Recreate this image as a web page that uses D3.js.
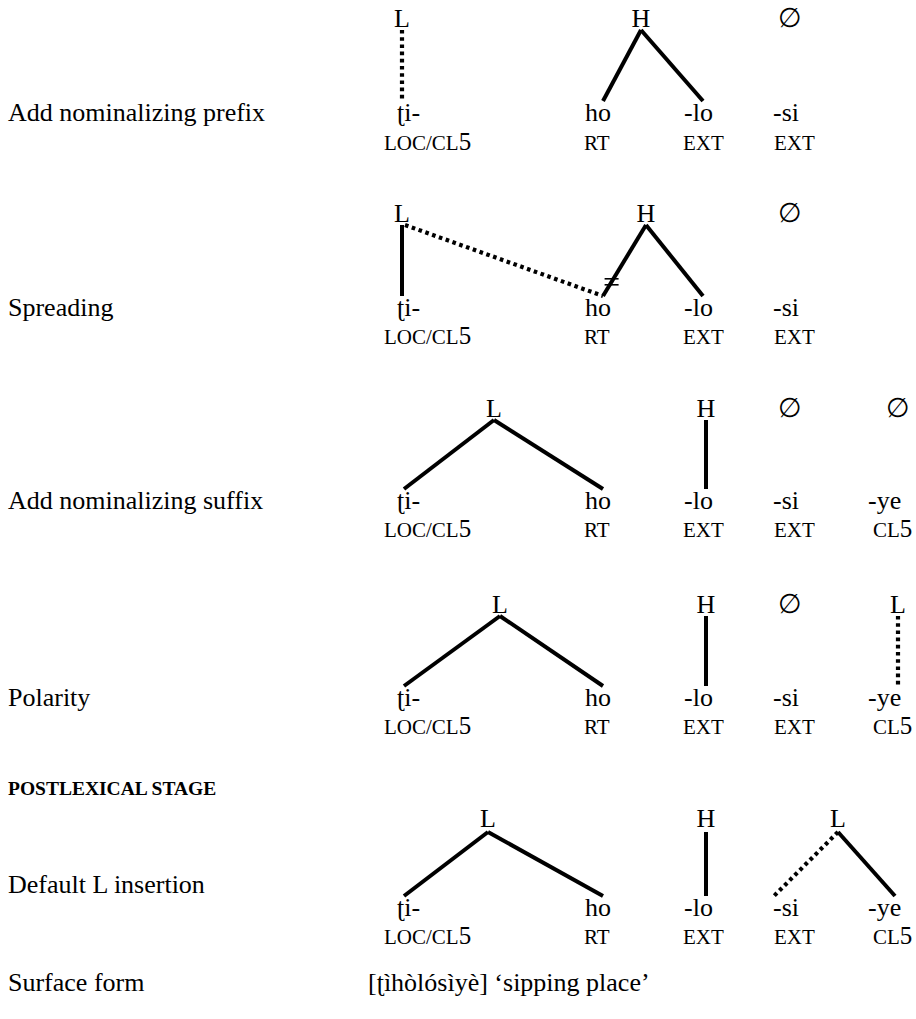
<!DOCTYPE html>
<html>
<head>
<meta charset="utf-8">
<script src="https://cdn.jsdelivr.net/npm/d3@7"></script>
<style>
  html, body { margin: 0; padding: 0; background: #fff; }
  svg { display: block; }
  text { font-family: "Liberation Serif", "Times New Roman", serif; fill: #000; }
</style>
</head>
<body>
<svg id="chart" width="916" height="1019"></svg>
<script>
// ---------------- DATA ----------------
const stepLabels = ["Add nominalizing prefix", "Spreading", "Add nominalizing suffix", "Polarity", "Default L insertion"];
const sectionHeading = "POSTLEXICAL STAGE";
const segments = ["ʈi-", "ho", "-lo", "-si", "-ye"];
const glosses = ["LOC/CL5", "RT", "EXT", "EXT", "CL5"];
const segmentCount = [4, 4, 5, 5, 5];
// tones of each step (label + tone column)
const tonesStep1 = [["L", 0], ["H", 1], ["∅", 3]];
const tonesStep2 = [["L", 0], ["H", 2], ["∅", 3]];
const tonesStep3 = [["L", 4], ["H", 5], ["∅", 3], ["∅", 6]];
const tonesStep4 = [["L", 7], ["H", 5], ["∅", 3], ["L", 6]];
const tonesStep5 = [["L", 8], ["H", 5], ["L", 9]];
// associations: [tone index, segment index, kind]
const linksStep1 = [[0, 0, "new"], [1, 1, "old"], [1, 2, "old"]];
const linksStep2 = [[0, 0, "old"], [0, 1, "new"], [1, 1, "cut"], [1, 2, "old"]];
const linksStep3 = [[0, 0, "old"], [0, 1, "old"], [1, 2, "old"]];
const linksStep4 = [[0, 0, "old"], [0, 1, "old"], [1, 2, "old"], [3, 4, "new"]];
const linksStep5 = [[0, 0, "old"], [0, 1, "old"], [1, 2, "old"], [2, 3, "new"], [2, 4, "old"]];
const surfaceLabel = "Surface form";
const surfaceForm = "[ʈìhòlósìyè] ‘sipping place’";

const allTones = [tonesStep1, tonesStep2, tonesStep3, tonesStep4, tonesStep5];
const allLinks = [linksStep1, linksStep2, linksStep3, linksStep4, linksStep5];

// ---------------- LAYOUT ----------------
const svg = d3.select("#chart");
const FS = 26, GFS = 21;
// horizontal page scale (document units -> px)
const x = d3.scaleLinear().domain([0, 916]).range([0, 916]);
const segStart = [397, 585, 684, 773, 868];
const segAnchor = [404, 603, 703, 774, 895];
const glossStart = [384, 584, 683, 774, 873];
const toneCol = [402, 641, 646, 790, 494, 706, 898, 500, 488, 838];
// vertical positions per step
const toneBase = [27, 222, 417, 613, 827];
const segBase = [121, 316, 509, 706, 916];
const glossBase = [150, 344, 537, 734, 944];
const labelBase = [121, 316, 509, 706, 893];

const g = svg.append("g");

stepLabels.forEach((lab, i) => {
  g.append("text").attr("x", x(8)).attr("y", labelBase[i]).attr("font-size", FS).text(lab);
});
g.append("text").attr("x", x(8)).attr("y", 795).attr("font-size", 19.5)
  .attr("font-weight", "bold").text(sectionHeading);

allTones.forEach((tones, i) => {
  const n = segmentCount[i];
  // tones
  tones.forEach(([t, c]) => {
    g.append("text").attr("x", x(toneCol[c])).attr("y", toneBase[i])
      .attr("text-anchor", "middle").attr("font-size", t === "∅" ? 27 : FS)
      .style("font-family", t === "∅" ? "'DejaVu Sans', sans-serif" : null)
      .style("font-weight", t === "∅" ? 300 : null)
      .text(t);
  });
  // segments
  for (let j = 0; j < n; j++) {
    g.append("text").attr("x", x(segStart[j])).attr("y", segBase[i]).attr("font-size", FS).text(segments[j]);
    const gt = g.append("text").attr("x", x(glossStart[j])).attr("y", glossBase[i]);
    glosses[j].split(/(\d+)/).filter(s => s.length).forEach(part => {
      gt.append("tspan").attr("font-size", /\d/.test(part) ? FS - 1 : GFS).text(part);
    });
  }
  // association lines
  const apexY = toneBase[i] + (i === 4 ? 5 : 3);
  const footY = segBase[i] - 20;
  allLinks[i].forEach(([ti, si, kind]) => {
    const tx = x(toneCol[tones[ti][1]]);
    let ax = tx;
    const sx = x(segAnchor[si]);
    const fx = Math.abs(sx - tx) < 6 ? tx : sx;
    if (kind === "new" && i === 1) ax = tx + 3;
    g.append("line")
      .attr("x1", ax).attr("y1", apexY)
      .attr("x2", fx).attr("y2", footY)
      .attr("stroke", "#000").attr("stroke-width", kind === "new" ? 4.2 : 4)
      .attr("stroke-dasharray", kind === "new" ? "3.6,3.6" : null);
    if (kind === "cut") {
      const f = 0.2;
      const mx = fx + (ax - fx) * f, my = footY + (apexY - footY) * f;
      [-3, 3].forEach(dy => {
        g.append("line").attr("x1", mx - 7).attr("x2", mx + 7)
          .attr("y1", my + dy).attr("y2", my + dy)
          .attr("stroke", "#000").attr("stroke-width", 1.6);
      });
    }
  });
});

g.append("text").attr("x", x(8)).attr("y", 991).attr("font-size", FS).text(surfaceLabel);
g.append("text").attr("x", x(368)).attr("y", 991).attr("font-size", FS).text(surfaceForm);
</script>
</body>
</html>
